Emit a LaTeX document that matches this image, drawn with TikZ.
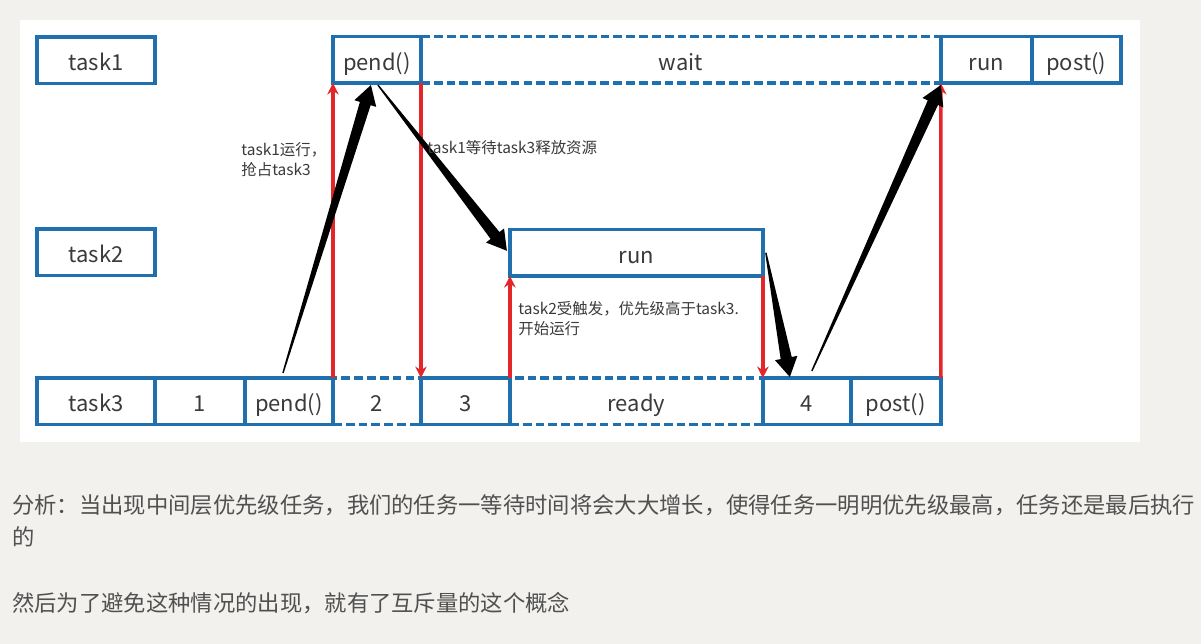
\documentclass[tikz,border=0pt]{standalone}
\usepackage{fontspec}
\setmainfont{Noto Sans CJK SC}
\usetikzlibrary{arrows.meta,positioning,calc}
\definecolor{boxblue}{RGB}{32,112,176}
\definecolor{sigred}{RGB}{226,38,42}
\definecolor{pagegrey}{RGB}{242,241,238}
\definecolor{inkgrey}{RGB}{58,58,58}
\definecolor{textgrey}{RGB}{80,80,80}
\newcommand{\fatarrow}[2]{%
  \coordinate (fa-c) at ($(#2)!11pt!(#1)$);
  \fill ($(#1)!0.4pt!90:(#2)$) -- ($(fa-c)!3.2pt!90:(#2)$) -- ($(fa-c)!6.5pt!90:(#2)$) -- (#2)
    -- ($(fa-c)!6.5pt!-90:(#2)$) -- ($(fa-c)!3.2pt!-90:(#2)$) -- ($(#1)!0.4pt!-90:(#2)$) -- cycle;}
\begin{document}
\begin{tikzpicture}[x=0.02cm,y=-0.02cm,>=Stealth,
  taskbox/.style={draw=boxblue,line width=2pt,minimum height=0.93cm,inner sep=0pt,outer sep=0pt,
    text height=12pt,text depth=0pt,text=inkgrey,font=\fontsize{12.5}{15}\selectfont},
  waitbox/.style={taskbox,dash pattern=on 5pt off 2.3pt},
  note/.style={align=left,inner sep=0pt,text=inkgrey,font=\fontsize{8.8}{11.3}\selectfont},
  wake/.style={draw=sigred,line width=2pt,-{Stealth[length=6.5pt,width=6.5pt]}},
  remark/.style={anchor=west,align=left,inner sep=0pt,text=textgrey,font=\fontsize{12.7}{18}\selectfont}]
\fill[pagegrey] (0,0) rectangle (1201,644);
\useasboundingbox (0,0) rectangle (1201,644);
\fill[white] (20,20) rectangle (1140,442);

\node[taskbox,minimum width=2.36cm,anchor=north west] (task1) at (37,37) {task1};
\node[taskbox,minimum width=2.36cm,anchor=north west] (task2) at (37,229) {task2};
\node[taskbox,minimum width=2.36cm,anchor=north west] (task3) at (37,378) {task3};

\node[taskbox,minimum width=1.8cm,right=0pt of task3] (one) {1};
\node[taskbox,minimum width=1.76cm,right=0pt of one] (pendc) {pend()};
\node[waitbox,minimum width=1.76cm,right=0pt of pendc] (two) {2};
\node[taskbox,minimum width=1.78cm,right=0pt of two] (three) {3};
\node[waitbox,minimum width=5.06cm,right=0pt of three] (ready) {ready};
\node[taskbox,minimum width=1.76cm,right=0pt of ready] (four) {4};
\node[taskbox,minimum width=1.8cm,right=0pt of four] (postc) {post()};

\node[taskbox,minimum width=1.76cm,above=5.9cm of two] (penda) {pend()};
\node[waitbox,minimum width=10.4cm,right=0pt of penda] (wait) {wait};
\node[taskbox,minimum width=1.82cm,right=0pt of wait] (runa) {run};
\node[taskbox,minimum width=1.78cm,right=0pt of runa] (posta) {post()};

\node[taskbox,minimum width=5.06cm,above=2.04cm of ready] (runb) {run};

\draw[wake] (two.north west) -- (penda.south west);
\draw[wake] (penda.south east) -- (three.north west);
\draw[wake] (ready.north west) -- (runb.south west);
\draw[wake] (runb.south east) -- (ready.north east);
\draw[wake] (postc.north east) -- (wait.south east);

\coordinate (s1) at ($(pendc.north)+(-6,-5)$);
\coordinate (e1) at ($(penda.south)+(-6,2)$);
\coordinate (s2) at ($(penda.south)+(1,2)$);
\coordinate (e2) at ($(runb.west)+(-3,-2)$);
\coordinate (s3) at ($(runb.east)+(3,0)$);
\coordinate (e3) at ($(four.north)+(-17,-1)$);
\coordinate (s4) at ($(four.north)+(5,-7)$);
\coordinate (e4) at ($(wait.south east)+(0,2)$);
\fatarrow{s1}{e1}
\fatarrow{s2}{e2}
\fatarrow{s3}{e3}
\fatarrow{s4}{e4}

\node[note,anchor=west] (preempt) at (241,160) {task1运行，\\抢占task3};
\node[note,anchor=west] (waiting) at (427,148) {task1等待task3释放资源};
\node[note,anchor=west] (trigger) at (518,319) {task2受触发，优先级高于task3.\\开始运行};

\node[remark] (analysis) at (12,521) {分析：当出现中间层优先级任务，我们的任务一等待时间将会大大增长，使得任务一明明优先级最高，任务还是最后执行\\的};
\node[remark] (mutex) at (12,603) {然后为了避免这种情况的出现，就有了互斥量的这个概念};
\end{tikzpicture}
\end{document}
